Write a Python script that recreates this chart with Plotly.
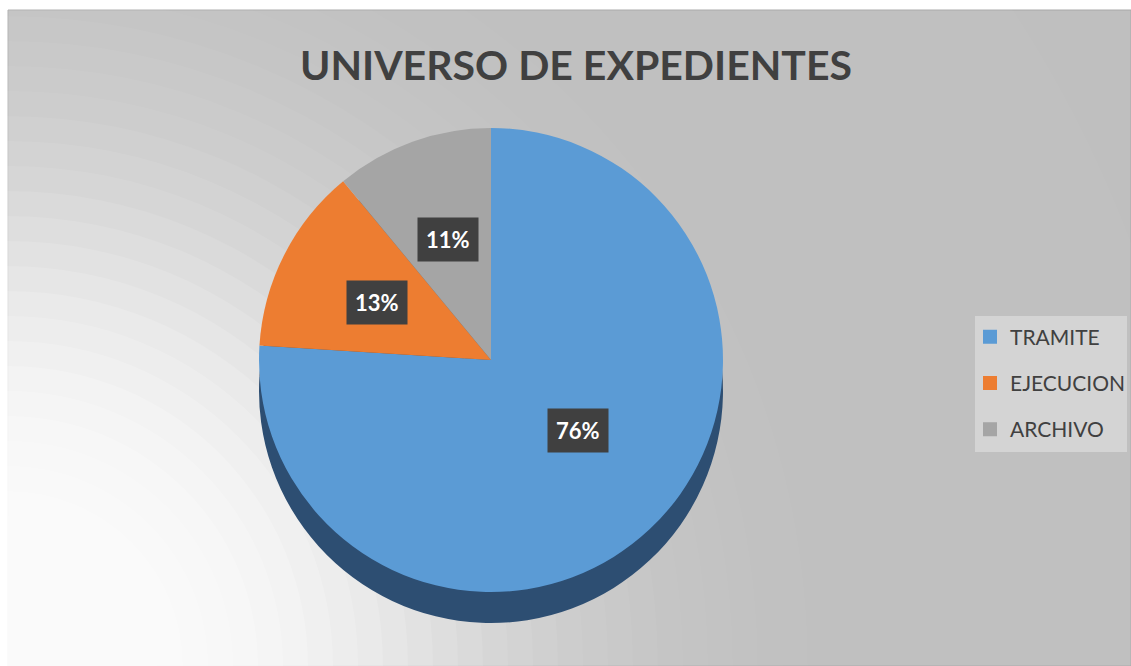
import math
import plotly.graph_objects as go

# ---- data ----
labels = ["TRAMITE", "EJECUCION", "ARCHIVO"]
values = [76, 13, 11]
colors = ["#5B9BD5", "#ED7D31", "#A5A5A5"]
side_colors = ["#2D4E72", "#8A4A1F", "#606060"]
title_text = "UNIVERSO DE EXPEDIENTES"

# ---- layout geometry (pixels) ----
W, H = 1131, 666
cx, cy, r = 491, 360, 232
depth = 31
FONT = "Lato, Open Sans, sans-serif"


def dom(center_y):
    return dict(x=[(cx - r) / W, (cx + r) / W],
                y=[1 - (center_y + r) / H, 1 - (center_y - r) / H])


fig = go.Figure()

# extruded "side" of the pie (same data, darker, shifted down)
fig.add_trace(go.Pie(
    labels=labels, values=values, sort=False, direction="clockwise", rotation=0,
    marker=dict(colors=side_colors, line=dict(width=0)),
    textinfo="none", hoverinfo="skip", showlegend=False, domain=dom(cy + depth),
))
# top surface
fig.add_trace(go.Pie(
    labels=labels, values=values, sort=False, direction="clockwise", rotation=0,
    marker=dict(colors=colors, line=dict(width=0)),
    textinfo="none", showlegend=False, domain=dom(cy),
))

# legend entries (one group per label so the entries can be spaced out)
for lab, col in zip(labels, colors):
    fig.add_trace(go.Scatter(
        x=[None], y=[None], mode="markers", name=lab, legendgroup=lab,
        marker=dict(symbol="square", size=14, color=col), hoverinfo="skip",
    ))

# data labels in dark boxes, placed from the slice mid-angles
total = sum(values)
cum = 0
annotations = []
for v in values:
    mid = 2 * math.pi * (cum + v / 2) / total
    cum += v
    f = 0.55
    px = cx + f * r * math.sin(mid)
    py = cy - f * r * math.cos(mid)
    annotations.append(dict(
        x=px / W, y=1 - py / H, xref="paper", yref="paper", showarrow=False,
        text=f"<b>{round(100 * v / total)}%</b>",
        font=dict(family=FONT, size=22, color="white"),
        bgcolor="#404040", borderpad=8,
    ))

# background: grey panel with a soft light glow from the lower-left corner
shapes = [dict(type="rect", xref="paper", yref="paper", x0=8 / W, x1=1, y0=0, y1=1 - 10 / H,
               fillcolor="#bfbfbf", line=dict(color="#a8a8a8", width=1), layer="below")]
ox, oy = 8, 666


def glow(d):
    return 0.97 / (1 + (d / 500.0) ** 4)


prev = 0.0
for rad in range(1200, 0, -25):
    w = glow(rad)
    a = 1 - (1 - w) / (1 - prev) if prev < 1 else 0
    prev = w
    if a <= 0:
        continue
    shapes.append(dict(type="circle", xref="paper", yref="paper",
                       x0=(ox - rad) / W, x1=(ox + rad) / W,
                       y0=(H - oy - rad) / H, y1=(H - oy + rad) / H,
                       fillcolor=f"rgba(255,255,255,{a:.4f})", line=dict(width=0), layer="below"))
# legend panel
shapes.append(dict(type="rect", xref="paper", yref="paper", x0=975 / W, x1=1127 / W,
                   y0=1 - 452 / H, y1=1 - 316 / H, fillcolor="#d4d4d4", line=dict(width=0),
                   layer="below"))

fig.update_layout(
    width=W, height=H,
    margin=dict(l=0, r=0, t=0, b=0),
    paper_bgcolor="white",
    plot_bgcolor="rgba(0,0,0,0)",
    xaxis=dict(visible=False), yaxis=dict(visible=False),
    title=dict(text=f"<b>{title_text}</b>", x=576 / W, xanchor="center", y=1 - 66 / H, yanchor="middle",
               font=dict(family=FONT, size=41, color="#404040")),
    legend=dict(x=970 / W, xanchor="left", y=1 - 383 / H, yanchor="middle",
                bgcolor="rgba(0,0,0,0)", borderwidth=0, tracegroupgap=16,
                font=dict(family=FONT, size=21, color="#404040"),
                itemwidth=30),
    shapes=shapes,
    annotations=annotations,
)

fig.write_html("out.html")
